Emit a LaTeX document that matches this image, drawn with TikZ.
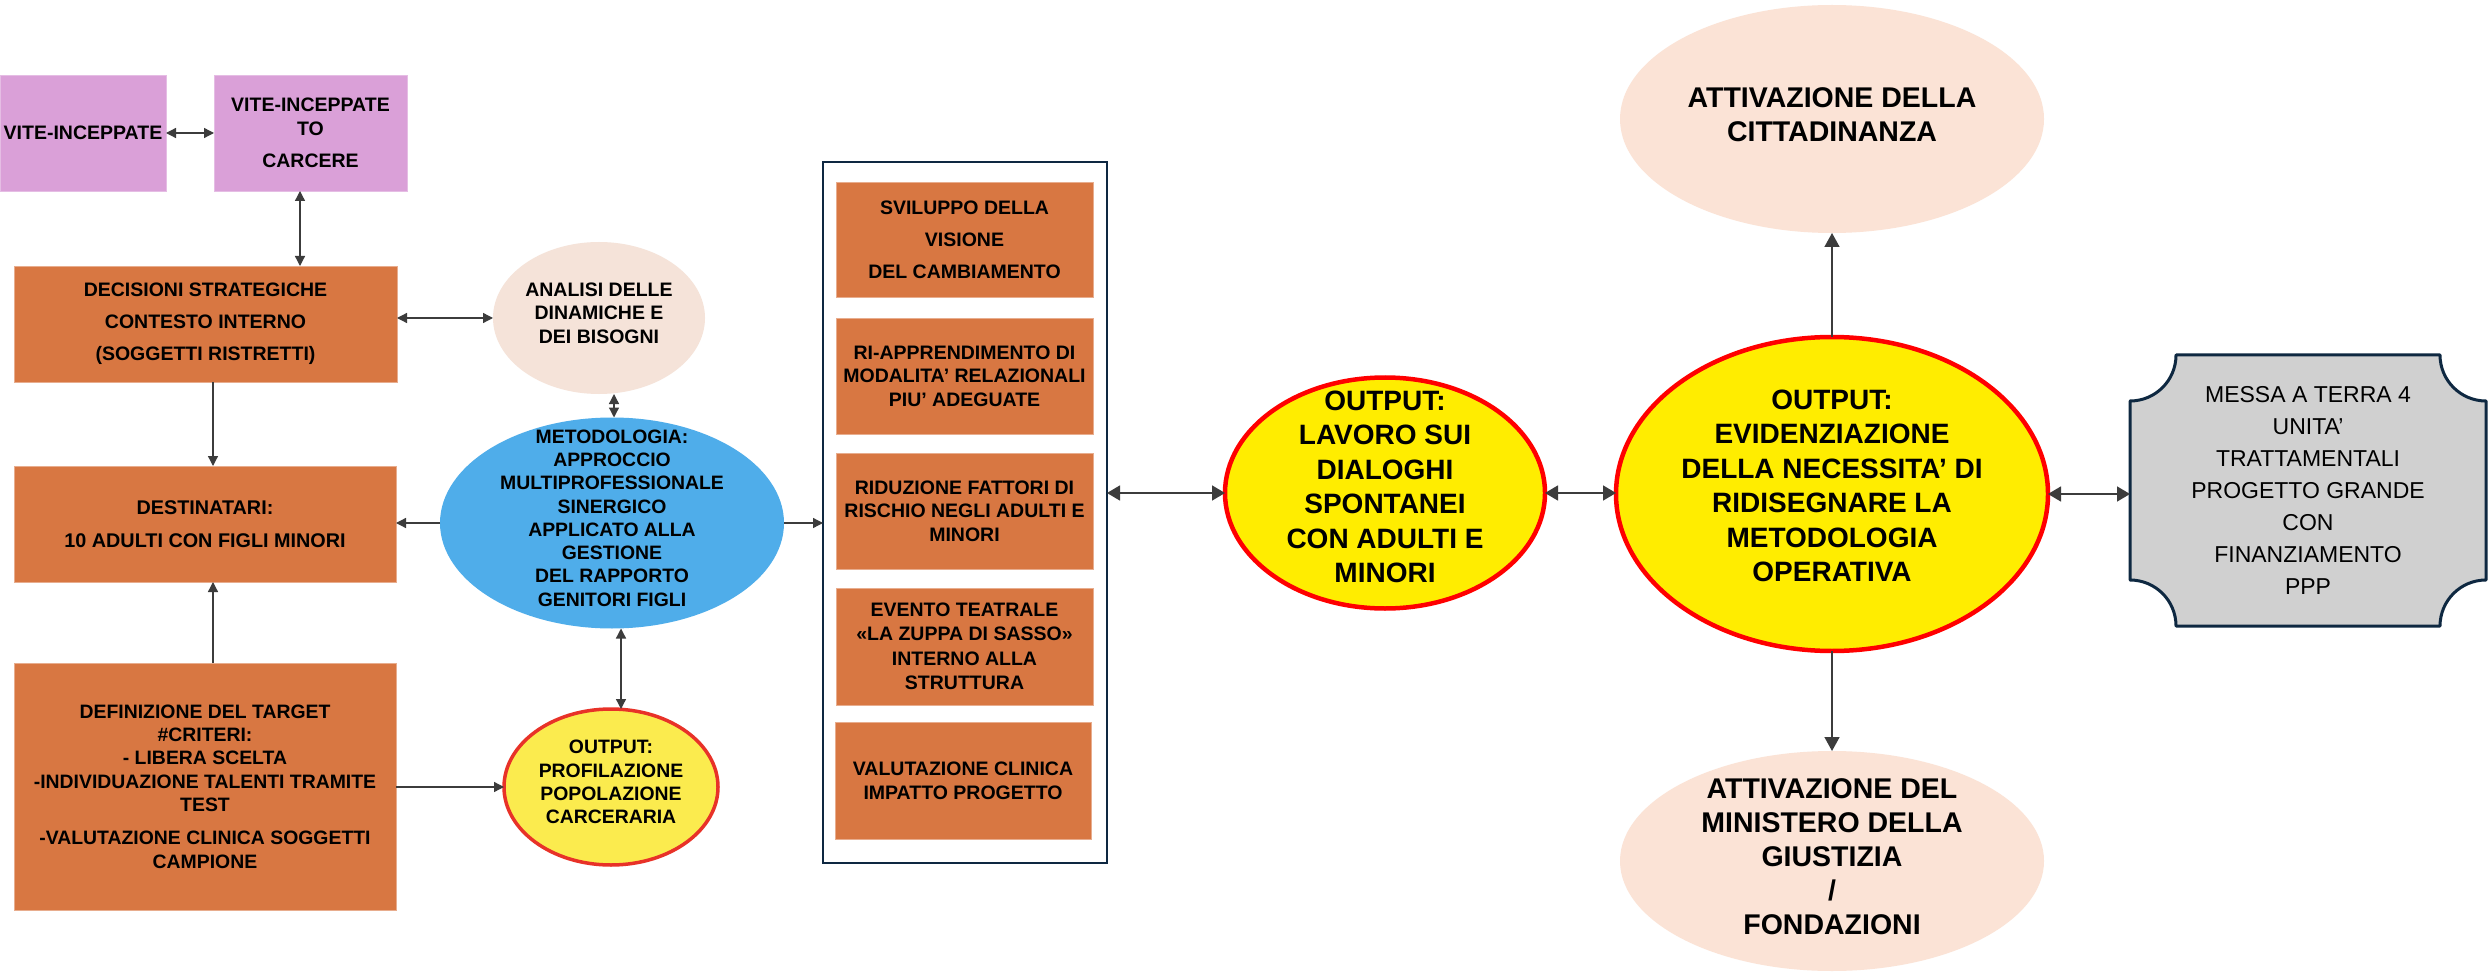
\documentclass[tikz,border=0pt]{standalone}
\usepackage{fontspec}
\setmainfont{Liberation Sans}
\usetikzlibrary{arrows.meta,shapes.geometric}
\definecolor{lilac}{RGB}{218,160,216}
\definecolor{orng}{RGB}{216,119,66}
\definecolor{peach}{RGB}{251,227,214}
\definecolor{peachb}{RGB}{245,227,217}
\definecolor{skyb}{RGB}{79,173,234}
\definecolor{yelA}{RGB}{251,235,78}
\definecolor{redA}{RGB}{232,50,40}
\definecolor{yelB}{RGB}{255,237,0}
\definecolor{redB}{RGB}{255,0,0}
\definecolor{navy}{RGB}{14,40,65}
\definecolor{grayb}{RGB}{208,208,208}
\definecolor{linec}{RGB}{60,60,60}
\tikzset{
  every node/.style={inner sep=0pt, outer sep=0pt, align=center, text=black},
  lilacbox/.style={rectangle, fill=lilac, draw=lilac!70!white, line width=0.8pt},
  orbox/.style={rectangle, fill=orng, draw=orng!60!white, line width=0.8pt},
  peachell/.style={ellipse, fill=peach, draw=none},
  yelell/.style={ellipse, fill=yelB, draw=redB, line width=4.5pt},
  bfA/.style={font=\bfseries\fontsize{19.5pt}{23.5pt}\selectfont},
  bfB/.style={font=\bfseries\fontsize{19.5pt}{32pt}\selectfont},
  cdA/.style={font=\bfseries\fontsize{19.4pt}{23.3pt}\selectfont},
  cdB/.style={font=\bfseries\fontsize{28pt}{34.5pt}\selectfont},
  bigf/.style={font=\bfseries\fontsize{28.5pt}{34pt}\selectfont},
  arr/.style={draw=linec, line width=1.3pt, -{Triangle[length=10pt,width=10pt]}},
  darr/.style={draw=linec, line width=1.3pt, {Triangle[length=10pt,width=10pt]}-{Triangle[length=10pt,width=10pt]}},
  barr/.style={draw=linec, line width=1.5pt, -{Triangle[length=14pt,width=15pt]}},
  bdarr/.style={draw=linec, line width=1.5pt, {Triangle[length=13pt,width=15pt]}-{Triangle[length=13pt,width=15pt]}}
}
\begin{document}
\begin{tikzpicture}[x=1pt,y=-1pt]
\useasboundingbox[fill=white] (0,0) rectangle (2489,973);

% left column
\node[lilacbox, bfA, minimum width=166pt, minimum height=116pt] (vite) at (83,133) {VITE-INCEPPATE};
\node[lilacbox, bfA, minimum width=193pt, minimum height=116pt] (carcere) at (310.5,133)
  {VITE-INCEPPATE\\TO\\[9pt]CARCERE};
\node[orbox, bfB, minimum width=383pt, minimum height=116pt] (decis) at (205.5,324)
  {DECISIONI STRATEGICHE\\CONTESTO INTERNO\\(SOGGETTI RISTRETTI)};
\node[orbox, font=\bfseries\fontsize{19.8pt}{33pt}\selectfont, minimum width=382pt, minimum height=116pt] (destin) at (205,524)
  {DESTINATARI:\\10 ADULTI CON FIGLI MINORI};
\node[orbox, cdA, minimum width=382pt, minimum height=247pt] (defin) at (205,786.5)
  {DEFINIZIONE DEL TARGET\\\#CRITERI:\\- LIBERA SCELTA\\-INDIVIDUAZIONE TALENTI TRAMITE\\TEST\\[10pt]-VALUTAZIONE CLINICA SOGGETTI\\CAMPIONE};

% middle ellipses
\node[ellipse, fill=peachb, minimum width=212pt, minimum height=152pt,
  label={[bfA, yshift=5pt]center:{ANALISI DELLE\\DINAMICHE E\\DEI BISOGNI}}] (analisi) at (599,318) {};
\node[ellipse, fill=skyb, minimum width=344pt, minimum height=211pt,
  label={[cdA, yshift=5pt]center:{METODOLOGIA:\\APPROCCIO\\MULTIPROFESSIONALE\\SINERGICO\\APPLICATO ALLA\\GESTIONE\\DEL RAPPORTO\\GENITORI FIGLI}}] (metod) at (612,523) {};
\node[ellipse, fill=yelA, draw=redA, line width=3.5pt, minimum width=214pt, minimum height=156pt,
  label={[cdA, yshift=5pt]center:{OUTPUT:\\PROFILAZIONE\\POPOLAZIONE\\CARCERARIA}}] (profil) at (611,787) {};

% frame with activities
\node[rectangle, draw=navy, fill=white, line width=2.5pt, minimum width=284pt, minimum height=701pt] (frame) at (965,512.5) {};
\node[orbox, bfB, minimum width=257pt, minimum height=115pt] (b1) at (964.5,239.5)
  {SVILUPPO DELLA\\VISIONE\\DEL CAMBIAMENTO};
\node[orbox, bfA, minimum width=257pt, minimum height=116pt] (b2) at (964.5,376)
  {RI-APPRENDIMENTO DI\\MODALITA’ RELAZIONALI\\PIU’ ADEGUATE};
\node[orbox, bfA, minimum width=257pt, minimum height=116pt] (b3) at (964.5,511)
  {RIDUZIONE FATTORI DI\\RISCHIO NEGLI ADULTI E\\MINORI};
\node[orbox, font=\bfseries\fontsize{19.5pt}{24.5pt}\selectfont, minimum width=257pt, minimum height=117pt] (b4) at (964.5,646.5)
  {EVENTO TEATRALE\\«LA ZUPPA DI SASSO»\\INTERNO ALLA\\STRUTTURA};
\node[orbox, font=\bfseries\fontsize{19.5pt}{24pt}\selectfont, minimum width=256pt, minimum height=117pt] (b5) at (963,780.5)
  {VALUTAZIONE CLINICA\\IMPATTO PROGETTO};

% outputs
\node[yelell, minimum width=320pt, minimum height=231pt,
  label={[cdB, yshift=6pt]center:{OUTPUT:\\LAVORO SUI\\DIALOGHI\\SPONTANEI\\CON ADULTI E\\MINORI}}] (lavoro) at (1385,493) {};
\node[yelell, minimum width=432pt, minimum height=314pt,
  label={[cdB, yshift=8pt]center:{OUTPUT:\\EVIDENZIAZIONE\\DELLA NECESSITA’ DI\\RIDISEGNARE LA\\METODOLOGIA\\OPERATIVA}}] (evid) at (1832,494) {};
\node[peachell, minimum width=424pt, minimum height=228pt,
  label={[bigf, yshift=4pt]center:{ATTIVAZIONE DELLA\\CITTADINANZA}}] (citt) at (1832,119) {};
\node[peachell, minimum width=424pt, minimum height=220pt,
  label={[bigf, yshift=4pt]center:{ATTIVAZIONE DEL\\MINISTERO DELLA\\GIUSTIZIA\\/\\FONDAZIONI}}] (minist) at (1832,861) {};

% concave-corner box
\fill[grayb] (2176,355) -- (2440,355) .. controls (2440,380.4) and (2460.6,401) .. (2486,401)
  -- (2486,580) .. controls (2460.6,580) and (2440,600.6) .. (2440,626)
  -- (2176,626) .. controls (2176,600.6) and (2155.4,580) .. (2130,580)
  -- (2130,401) .. controls (2155.4,401) and (2176,380.4) .. (2176,355) -- cycle;
\draw[navy, line width=3pt, line join=round] (2176,355) -- (2440,355) .. controls (2440,380.4) and (2460.6,401) .. (2486,401)
  -- (2486,580) .. controls (2460.6,580) and (2440,600.6) .. (2440,626)
  -- (2176,626) .. controls (2176,600.6) and (2155.4,580) .. (2130,580)
  -- (2130,401) .. controls (2155.4,401) and (2176,380.4) .. (2176,355) -- cycle;
\node[rectangle, minimum width=356pt, minimum height=271pt, font=\fontsize{23pt}{32pt}\selectfont] (messa) at (2308,490.5)
  {MESSA A TERRA 4\\UNITA’\\TRATTAMENTALI\\PROGETTO GRANDE\\CON\\FINANZIAMENTO\\PPP};

% helper x positions
\coordinate (xa) at (300,0);
\coordinate (xb) at (213,0);
\coordinate (xc) at (614,0);
\coordinate (xd) at (621,0);

% connectors
\draw[darr] (vite.east) -- (carcere.west);
\draw[darr] (carcere.south -| xa) -- (decis.north -| xa);
\draw[darr] (decis.east |- analisi.west) -- (analisi.west);
\draw[arr] (decis.south -| xb) -- (destin.north -| xb);
\draw[arr] (defin.north -| xb) -- (destin.south -| xb);
\draw[arr] (metod.west) -- (destin.east |- metod.west);
\draw[darr] (analisi.south -| xc) -- (metod.north -| xc);
\draw[darr] (metod.south -| xd) -- (profil.north -| xd);
\draw[arr] (defin.east |- profil.west) -- (profil.west);
\draw[arr] (metod.east) -- (frame.west |- metod.east);
\draw[bdarr] (frame.east |- lavoro.west) -- (lavoro.west);
\draw[bdarr] (lavoro.east) -- (evid.west |- lavoro.east);
\draw[barr] (evid.north) -- (citt.south);
\draw[barr] (evid.south) -- (minist.north);
\draw[bdarr] (evid.east) -- (messa.west |- evid.east);
\end{tikzpicture}
\end{document}
